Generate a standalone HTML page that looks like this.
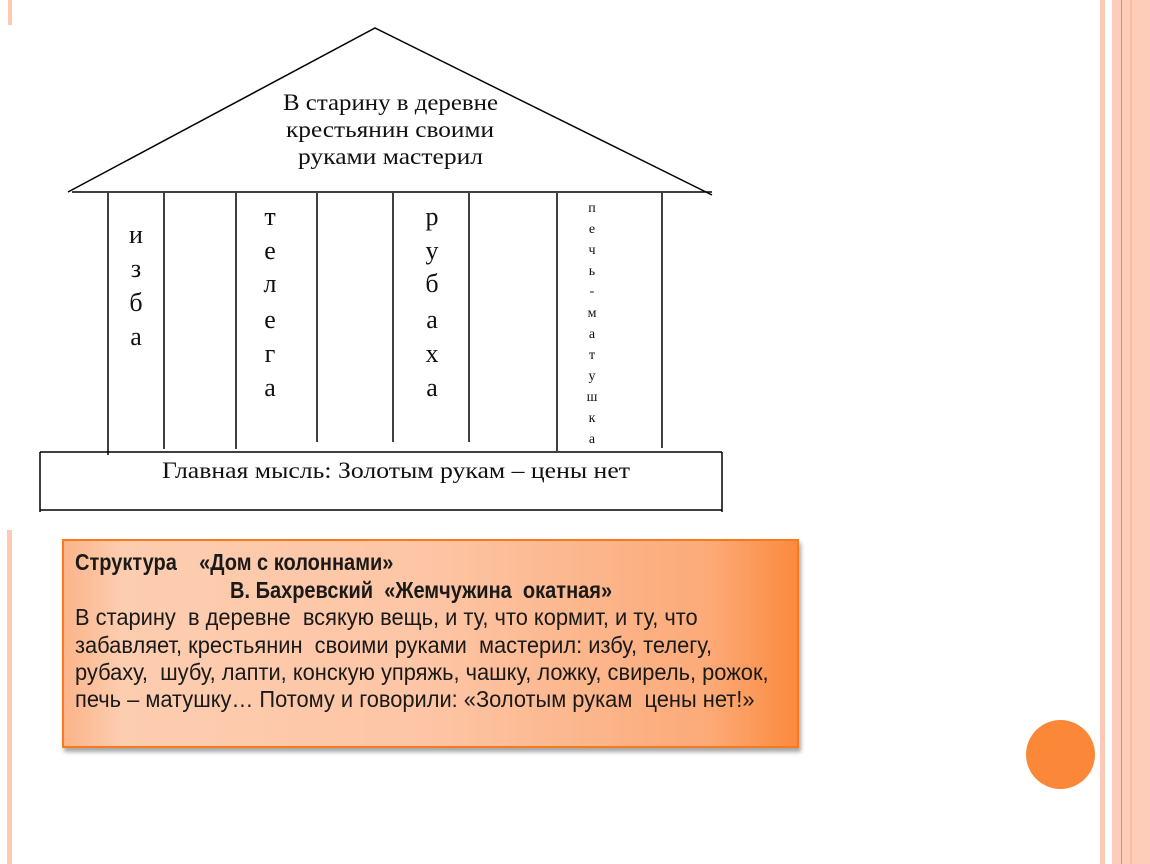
<!DOCTYPE html>
<html><head><meta charset="utf-8"><style>
body{margin:0;width:1150px;height:864px;background:#fff;position:relative;overflow:hidden;font-family:"Liberation Serif",serif}
.a{position:absolute}
.box{left:62px;top:539px;width:737px;height:209px;border:2px solid #f77a1e;box-sizing:border-box;background:linear-gradient(90deg,#fbb48a 0%,#fdcdb0 8%,#fdc5a5 50%,#fcaa78 88%,#fb8a3e 100%);box-shadow:2px 4px 4px rgba(0,0,0,.35)}
.t{position:absolute;left:11px;font-family:"Liberation Sans",sans-serif;font-size:23px;color:#1a1a1a;white-space:nowrap;transform:scaleX(0.95);transform-origin:0 0;line-height:28px}
</style></head><body>
<div class="a" style="left:1100px;top:0;width:5px;height:864px;background:#fdc9b6"></div>
<div class="a" style="left:1112px;top:0;width:38px;height:864px;background:#fdcdb9"></div>
<div class="a" style="left:1121px;top:0;width:1px;height:864px;background:#f08a5d"></div>
<div class="a" style="left:1130px;top:0;width:2px;height:864px;background:#fbbba0"></div>
<div class="a" style="left:8px;top:0;width:4px;height:25px;background:#fdc9b6"></div>
<div class="a" style="left:7px;top:530px;width:5px;height:334px;background:#fdc9b6"></div>
<div class="a" style="left:1026px;top:720px;width:69px;height:69px;border-radius:50%;background:#fb8838"></div>
<svg class="a" style="left:0;top:0" width="1150" height="864">
<g stroke="#000" stroke-width="1.5" fill="none">
<polyline points="68,192 375,28 712,195"/>
<line x1="72" y1="192" x2="712" y2="192"/>
<line x1="108" y1="193" x2="108" y2="455"/>
<line x1="164" y1="193" x2="164" y2="449"/>
<line x1="236" y1="193" x2="236" y2="449"/>
<line x1="317" y1="193" x2="317" y2="442"/>
<line x1="393" y1="193" x2="393" y2="442"/>
<line x1="469" y1="193" x2="469" y2="442"/>
<line x1="557" y1="193" x2="557" y2="451"/>
<line x1="662" y1="193" x2="662" y2="448"/>
<line x1="40" y1="452" x2="722" y2="452"/>
<line x1="40" y1="452" x2="40" y2="512"/>
<line x1="722" y1="452" x2="722" y2="512"/>
<line x1="40" y1="510" x2="722" y2="510"/>
</g>
<g font-family="Liberation Serif,serif" font-size="23" fill="#111">
<text x="283" y="110" textLength="215" lengthAdjust="spacingAndGlyphs">В старину в деревне</text>
<text x="286" y="137" textLength="208" lengthAdjust="spacingAndGlyphs">крестьянин своими</text>
<text x="298" y="164" textLength="185" lengthAdjust="spacingAndGlyphs">руками мастерил</text>
<text x="162" y="478" textLength="468" lengthAdjust="spacingAndGlyphs">Главная мысль: Золотым рукам – цены нет</text>
</g>
<g font-family="Liberation Serif,serif" font-size="26" fill="#111" text-anchor="middle">
<text x="136" y="243">и</text><text x="136" y="277">з</text><text x="136" y="311">б</text><text x="136" y="345">а</text>
<text x="270" y="225">т</text><text x="270" y="259">е</text><text x="270" y="292">л</text><text x="270" y="328">е</text><text x="270" y="362">г</text><text x="270" y="396">а</text>
<text x="432" y="225">р</text><text x="432" y="259">у</text><text x="432" y="292">б</text><text x="432" y="328">а</text><text x="432" y="362">х</text><text x="432" y="396">а</text>
</g>
<g font-family="Liberation Serif,serif" font-size="14" fill="#111" text-anchor="middle">
<text x="592" y="212">п</text><text x="592" y="233">е</text><text x="592" y="254">ч</text><text x="592" y="275">ь</text><text x="592" y="295">-</text><text x="592" y="317">м</text><text x="592" y="338">а</text><text x="592" y="359">т</text><text x="592" y="380">у</text><text x="592" y="401">ш</text><text x="592" y="422">к</text><text x="592" y="443">а</text>
</g>
</svg>
<div class="a box">
<div class="t" style="top:7px;font-weight:bold;transform:scaleX(0.87)">Структура &nbsp;&nbsp;&nbsp;«Дом с колоннами»</div>
<div class="t" style="top:35px;left:166px;font-weight:bold;transform:scaleX(0.87)">В. Бахревский &nbsp;«Жемчужина &nbsp;окатная»</div>
<div class="t" style="top:62px">В старину &nbsp;в деревне &nbsp;всякую вещь, и ту, что кормит, и ту, что</div>
<div class="t" style="top:90px">забавляет, крестьянин &nbsp;своими руками &nbsp;мастерил: избу, телегу,</div>
<div class="t" style="top:117px">рубаху, &nbsp;шубу, лапти, конскую упряжь, чашку, ложку, свирель, рожок,</div>
<div class="t" style="top:144px">печь – матушку… Потому и говорили: «Золотым рукам &nbsp;цены нет!»</div>
</div>
</body></html>
